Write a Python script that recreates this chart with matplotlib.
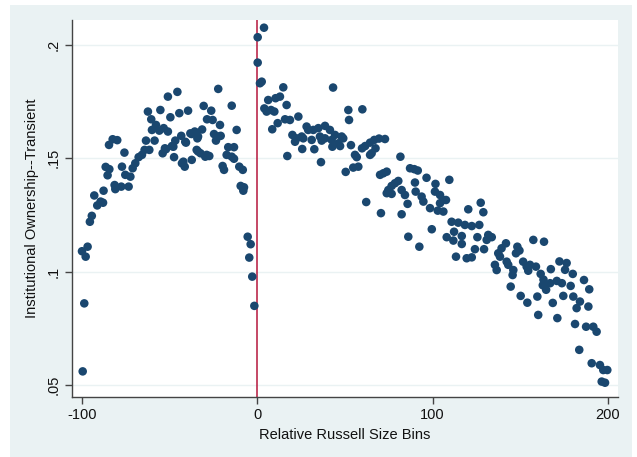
import matplotlib
matplotlib.use("Agg")
import matplotlib.pyplot as plt
from matplotlib.patches import Rectangle

plt.rcParams["font.family"] = ["Liberation Sans", "DejaVu Sans"]

# Relative Russell size bins (left of the cutoff)
x_left = [-100, -99.6, -98.7, -97.9, -96.8, -95.5, -94.4, -93, -91.3, -89.4, -88, -87.7,
          -86.5, -85.4, -84.4, -84.6, -82.5, -79.9, -81.4, -81, -77.6, -73.4,
          -77.2, -75.3, -75.8, -72.4, -71.1, -69.6, -67.7, -65.8, -64.3, -63.5, -61.6,
          -58.6, -60.1, -62.4, -60.5, -57.8, -55.3, -55.9, -53.4, -51, -51, -45.6,
          -49.6, -44.5, -39.5, -54, -52.7, -52.1, -48.7, -47.9, -47.5, -46.8, -43.4,
          -41.1, -40.7, -38.2, -37.5, -35.7, -35, -33.8, -34.2, -31.5, -43, -42.2,
          -41.4, -37.4, -34.6, -33.8, -32.4, -29.7, -27.4, -28.9, -30.6, -26.3, -28.7,
          -25.5, -22.3, -14.6, -21.3, -11.8, -24.7, -20.9, -23.6, -22.3, -16.6, -13.3,
          -17.5, -14.6, -13.3, -19.8, -19, -10.3, -8.3, -9.5, -7.6, -8, -5.5, -3.8,
          -4.6, -2.9, -1.7]
y_left = [0.109, 0.056, 0.086, 0.1066, 0.111, 0.122, 0.1246, 0.1336, 0.1292, 0.1309, 0.1304, 0.1357,
          0.1462, 0.1425, 0.1452, 0.1559, 0.1584, 0.158, 0.1382, 0.1364, 0.1375, 0.1375,
          0.1463, 0.1427, 0.1525, 0.1419, 0.1456, 0.1478, 0.1505, 0.1515, 0.1537, 0.1578, 0.1537,
          0.1578, 0.1625, 0.1706, 0.1672, 0.1647, 0.1713, 0.1622, 0.1633, 0.1618, 0.1772, 0.1793,
          0.1681, 0.1699, 0.171, 0.1522, 0.1544, 0.154, 0.1554, 0.1551, 0.1505, 0.1578, 0.1599,
          0.1573, 0.1569, 0.161, 0.1607, 0.1618, 0.1613, 0.1596, 0.1588, 0.1627, 0.1478, 0.1485,
          0.1463, 0.1493, 0.1537, 0.153, 0.1522, 0.1507, 0.151, 0.1515, 0.1731, 0.171, 0.1672,
          0.1669, 0.1806, 0.1732, 0.1647, 0.1625, 0.1607, 0.1599, 0.1578, 0.1596, 0.1549, 0.1549,
          0.1515, 0.1507, 0.1498, 0.1466, 0.1449, 0.1463, 0.1449, 0.1378, 0.1372, 0.1357, 0.1154, 0.1121,
          0.1062, 0.0978, 0.0849]

# right of the cutoff
x_right = [0.2, 3.8, 0.2, 1.5, 2.5, 14.8, 43.2, 6.2, 10.4, 12.9, 16.7, 4, 5.3, 7.8, 9.7,
           51.9, 59.9, 52.3, 15.8, 18.6, 23.4, 11.6, 8.5, 20, 22.4, 25.3, 28.1, 29, 31.9,
           34.8, 38.6, 41.4, 44.3, 48.1, 49, 21.5, 26.2, 31, 35.7, 38.6, 42.4, 46.2, 47.2,
           42.8, 25.6, 32.5, 36.7, 17.1, 36.3, 53.4, 55.7, 56.7, 50.4, 54.7, 57.6, 59.7,
           61.5, 64.3, 66.7, 69.4, 72.8, 64.3, 65.2, 67.4, 81.6, 70, 71.9, 73.8, 87.1, 89.5,
           91.5, 62.1, 70.5, 82.3, 74.7, 76.6, 78.5, 80.4, 76.6, 73.8, 82.3, 84.2, 85.7,
           89.9, 90.3, 93.7, 94.7, 96.5, 101.6, 101.3, 104.2, 104.2, 98.5, 102.9, 106.1,
           86.1, 92.4, 99.5, 109.5, 107.6, 106.1, 127.4, 128.9, 120.3, 110.8, 114.6, 118.4,
           122.3, 126.6, 112.2, 116.6, 108, 111.8, 116.6, 125.5, 131.7, 133.7, 130.8, 124.1,
           129.3, 113.3, 119.4, 122.3, 141.8, 139.3, 137.4, 138.4, 148.3, 149.5, 147.5,
           157.4, 163.5, 135.5, 136.5, 142.2, 143.1, 146, 145.6, 151.6, 153.6, 155.5, 154.5,
           158.9, 144.5, 150.2, 154, 161.6, 163.2, 162.8, 164.7, 167, 170.8, 173.7, 167.4,
           172.3, 176.4, 175.5, 179.9, 178.7, 159.7, 160.2, 168.5, 171.1, 174.5, 180.2, 184,
           186.3, 189.3, 188.8, 182.1, 181.2, 187.5, 191.6, 193.5, 183.6, 190.7, 195.4,
           197.3, 199.6, 196.4, 198.3]
y_right = [0.2034, 0.2076, 0.1922, 0.1831, 0.1838, 0.1813, 0.1812, 0.1757, 0.1765, 0.1772, 0.1735,
           0.172, 0.1706, 0.1713, 0.1706, 0.1713, 0.1716, 0.1669, 0.1672, 0.1669, 0.1684, 0.1655,
           0.1628, 0.1603, 0.1588, 0.1596, 0.164, 0.1625, 0.1625, 0.1633, 0.1643, 0.1625, 0.1603,
           0.1596, 0.1588, 0.1573, 0.1588, 0.1581, 0.1596, 0.1588, 0.1581, 0.1566, 0.1554, 0.1551,
           0.1541, 0.154, 0.1578, 0.151, 0.1483, 0.1558, 0.1515, 0.1505, 0.144, 0.1459, 0.1463,
           0.1544, 0.1554, 0.1569, 0.1581, 0.1587, 0.1585, 0.1515, 0.1522, 0.1544, 0.1507, 0.1427,
           0.1434, 0.1441, 0.1456, 0.1452, 0.1446, 0.1307, 0.1258, 0.1253, 0.136, 0.1378, 0.139,
           0.14, 0.1343, 0.1346, 0.136, 0.1338, 0.1299, 0.1393, 0.1353, 0.1331, 0.1309, 0.1414,
           0.1387, 0.1353, 0.1338, 0.1302, 0.128, 0.1269, 0.1316, 0.1154, 0.111, 0.1187, 0.1405,
           0.1316, 0.1265, 0.1304, 0.1262, 0.1275, 0.122, 0.1216, 0.1206, 0.1201, 0.1206, 0.1176,
           0.1157, 0.1152, 0.1137, 0.1122, 0.1152, 0.1162, 0.1152, 0.114, 0.1099, 0.1099, 0.1066,
           0.1059, 0.1063, 0.1125, 0.1103, 0.1081, 0.1066, 0.111, 0.1093, 0.1081, 0.114, 0.1132,
           0.103, 0.1007, 0.1044, 0.103, 0.1007, 0.0985, 0.1044, 0.1022, 0.103, 0.1004, 0.1022,
           0.0934, 0.0893, 0.0863, 0.099, 0.0965, 0.094, 0.092, 0.0949, 0.0959, 0.0949, 0.1011,
           0.1045, 0.1038, 0.1008, 0.099, 0.0937, 0.089, 0.0809, 0.0862, 0.0795, 0.0893, 0.089,
           0.0868, 0.0963, 0.0922, 0.0846, 0.0839, 0.0769, 0.0757, 0.0757, 0.0735, 0.0655, 0.0596,
           0.0588, 0.0566, 0.0566, 0.0515, 0.051]

x_ticks = [-100, 0, 100, 200]
x_ticklabels = ["-100", "0", "100", "200"]
y_ticks = [0.05, 0.1, 0.15, 0.2]
y_ticklabels = [".05", ".1", ".15", ".2"]

bg = "#eaf2f3"
navy = "#1a476f"

fig = plt.figure(figsize=(6.37, 4.57), dpi=100, facecolor="white")
# stata-like light outer panel, kept behind the axes
fig.patches.append(Rectangle((10 / 637, 0), 622 / 637, 452 / 457,
                             transform=fig.transFigure, facecolor=bg,
                             edgecolor="none", zorder=-10))

ax = fig.add_axes([72 / 637, 60 / 457, 546 / 637, 377 / 457])
ax.set_facecolor("white")

ax.scatter(x_left + x_right, y_left + y_right, s=38, color=navy,
           edgecolors="none", zorder=3)
ax.axvline(0, color="#b5163c", lw=1.1, zorder=2)

ax.set_xlim(-105.7, 205.7)
ax.set_ylim(0.0447, 0.211)
ax.set_xticks(x_ticks)
ax.set_xticklabels(x_ticklabels)
ax.set_yticks(y_ticks)
ax.set_yticklabels(y_ticklabels, rotation=90, va="center")

ax.grid(axis="y", color=bg, lw=1.0, zorder=0)
ax.set_axisbelow(True)
for side in ["top", "right"]:
    ax.spines[side].set_visible(False)
for side in ["left", "bottom"]:
    ax.spines[side].set_color("#444444")
    ax.spines[side].set_linewidth(1.0)
ax.tick_params(axis="both", length=5, width=1, color="#444444",
               labelsize=10.5, labelcolor="#111111", pad=3)

ax.set_xlabel("Relative Russell Size Bins", fontsize=10.5, color="#111111", labelpad=4)
ax.set_ylabel("Institutional Ownership--Transient", fontsize=10.5, color="#111111", labelpad=6)

fig.savefig("out.png", dpi=100, facecolor=fig.get_facecolor())
